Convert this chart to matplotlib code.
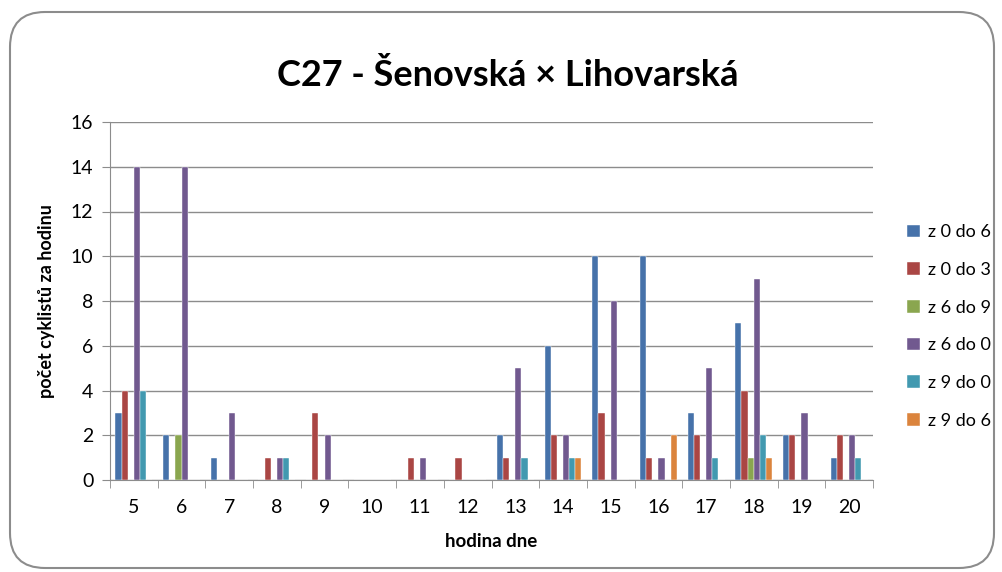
import numpy as np
import matplotlib.pyplot as plt
from matplotlib.patches import FancyBboxPatch

plt.rcParams['font.family'] = ['Lato', 'DejaVu Sans']

# hodiny a počty cyklistů podle směru
hodiny = [5, 6, 7, 8, 9, 10, 11, 12, 13, 14, 15, 16, 17, 18, 19, 20]
z0do6 = [3, 2, 1, 0, 0, 0, 0, 0, 2, 6, 10, 10, 3, 7, 2, 1]
z0do3 = [4, 0, 0, 1, 3, 0, 1, 1, 1, 2, 3, 1, 2, 4, 2, 2]
z6do9 = [0, 2, 0, 0, 0, 0, 0, 0, 0, 0, 0, 0, 0, 1, 0, 0]
z6do0 = [14, 14, 3, 1, 2, 0, 1, 0, 5, 2, 8, 1, 5, 9, 3, 2]
z9do0 = [4, 0, 0, 1, 0, 0, 0, 0, 1, 1, 0, 0, 1, 2, 0, 1]
z9do6 = [0, 0, 0, 0, 0, 0, 0, 0, 0, 1, 0, 2, 0, 1, 0, 0]

serie = [z0do6, z0do3, z6do9, z6do0, z9do0, z9do6]
nazvy = ['z 0 do 6', 'z 0 do 3', 'z 6 do 9', 'z 6 do 0', 'z 9 do 0', 'z 9 do 6']
barvy = ['#4672AA', '#AA4644', '#8AA64F', '#71598F', '#4299B0', '#DB843D']

fig = plt.figure(figsize=(10.02, 5.72), dpi=100)

# rámeček kolem grafu
ram = FancyBboxPatch((10 / 1002, 4 / 572), 984 / 1002, 556 / 572,
                     boxstyle='round,pad=0,rounding_size=0.035',
                     transform=fig.transFigure, facecolor='white',
                     edgecolor='#8c8c8c', linewidth=1.5, mutation_aspect=1002 / 572,
                     zorder=-5)
fig.patches.append(ram)

ax = fig.add_axes([110 / 1002, (572 - 480) / 572, 763 / 1002, 358 / 572])
ax.set_facecolor('none')

x = np.arange(len(hodiny))
sirka = 1 / 7.75
for i, (vals, nazev, barva) in enumerate(zip(serie, nazvy, barvy)):
    ax.bar(x + (i - 2.5) * sirka, vals, sirka, color=barva, label=nazev,
           edgecolor='white', linewidth=0.3, zorder=3)

ax.set_xlim(-0.5, len(hodiny) - 0.5)
ax.set_ylim(0, 16)
ax.set_yticks(range(0, 17, 2))
ax.set_xticks(x)
ax.set_xticklabels(hodiny)
ax.set_xticks(np.arange(-0.5, len(hodiny), 1), minor=True)
ax.tick_params(axis='x', which='major', length=0, pad=14, labelsize=14)
ax.tick_params(axis='x', which='minor', length=6, color='#8c8c8c', direction='out')
ax.tick_params(axis='y', length=6, color='#8c8c8c', labelsize=14, pad=6)
ax.grid(axis='y', color='#8c8c8c', linewidth=1, zorder=0)
for s in ['top', 'right']:
    ax.spines[s].set_visible(False)
ax.spines['left'].set_color('#8c8c8c')
ax.spines['bottom'].set_color('#8c8c8c')

ax.set_ylabel('počet cyklistů za hodinu', fontsize=13, fontweight='bold', labelpad=11)
ax.set_xlabel('hodina dne', fontsize=13.5, fontweight='bold', labelpad=12)

fig.text(508 / 1002, (572 - 75) / 572, 'C27 - Šenovská × Lihovarská',
         ha='center', va='center', fontsize=26, fontweight='bold')

fig.legend(loc='upper left', bbox_to_anchor=(900 / 1002, (572 - 217) / 572),
           frameon=False, fontsize=13, handlelength=0.7, handleheight=0.7,
           handletextpad=0.45, labelspacing=1.2, borderaxespad=0)

fig.savefig('out.png', dpi=100)
